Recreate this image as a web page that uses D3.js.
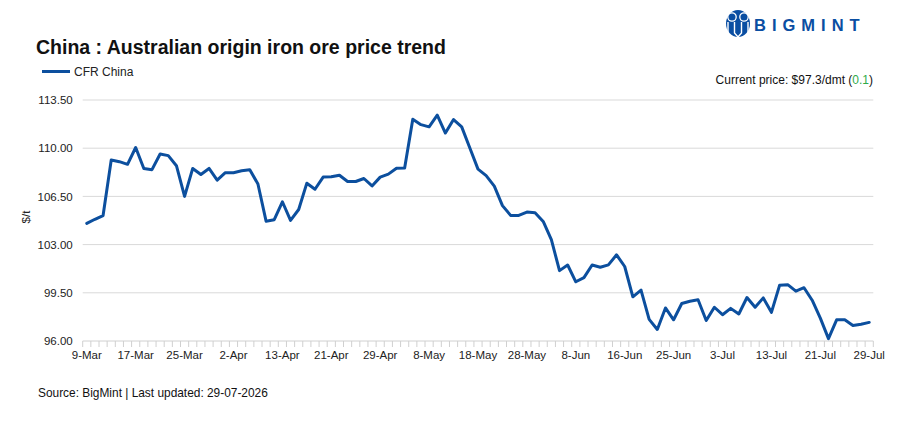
<!DOCTYPE html>
<html>
<head>
<meta charset="utf-8">
<script src="https://cdn.jsdelivr.net/npm/d3@7"></script>
<style>
  html, body { margin: 0; padding: 0; background: #fff; }
  svg { display: block; font-family: "Liberation Sans", Arial, sans-serif; }
</style>
</head>
<body>
<svg id="chart" width="907" height="429"></svg>
<script>
// ---- Data ----
const dates = [
  "9-Mar","10-Mar","11-Mar","12-Mar","13-Mar","16-Mar","17-Mar","18-Mar","19-Mar","20-Mar",
  "23-Mar","24-Mar","25-Mar","26-Mar","27-Mar","30-Mar","31-Mar","1-Apr","2-Apr","6-Apr",
  "7-Apr","8-Apr","9-Apr","10-Apr","13-Apr","14-Apr","15-Apr","16-Apr","17-Apr","20-Apr",
  "21-Apr","22-Apr","23-Apr","24-Apr","27-Apr","28-Apr","29-Apr","30-Apr","4-May","5-May",
  "6-May","7-May","8-May","11-May","12-May","13-May","14-May","15-May","18-May","19-May",
  "20-May","21-May","22-May","27-May","28-May","29-May","2-Jun","3-Jun","4-Jun","5-Jun",
  "8-Jun","9-Jun","10-Jun","11-Jun","12-Jun","15-Jun","16-Jun","17-Jun","18-Jun","22-Jun",
  "23-Jun","24-Jun","25-Jun","26-Jun","29-Jun","30-Jun","1-Jul","2-Jul","3-Jul","6-Jul",
  "7-Jul","8-Jul","9-Jul","10-Jul","13-Jul","14-Jul","15-Jul","16-Jul","17-Jul","20-Jul",
  "21-Jul","22-Jul","23-Jul","24-Jul","27-Jul","28-Jul","29-Jul"
];
const cfrChina = [
  104.54,104.84,105.11,109.14,109.02,108.83,110.05,108.53,108.44,109.58,
  109.46,108.73,106.50,108.53,108.09,108.53,107.68,108.22,108.22,108.36,
  108.44,107.40,104.70,104.81,106.11,104.76,105.55,107.46,107.02,107.90,
  107.92,108.04,107.58,107.58,107.80,107.26,107.90,108.12,108.55,108.56,
  112.10,111.71,111.55,112.40,111.10,112.08,111.55,110.02,108.48,108.01,
  107.25,105.83,105.12,105.12,105.36,105.31,104.68,103.36,101.11,101.52,
  100.30,100.60,101.52,101.36,101.53,102.26,101.41,99.21,99.70,97.57,
  96.84,98.40,97.54,98.72,98.89,98.99,97.49,98.45,97.91,98.37,
  97.96,99.16,98.45,99.13,98.08,100.04,100.09,99.62,99.87,98.96,
  97.66,96.17,97.54,97.54,97.13,97.22,97.35
];
const xTickLabels = ["9-Mar","17-Mar","25-Mar","2-Apr","13-Apr","21-Apr","29-Apr","8-May",
  "18-May","28-May","8-Jun","16-Jun","25-Jun","3-Jul","13-Jul","21-Jul","29-Jul"];
const yTicks = [96, 99.5, 103, 106.5, 110, 113.5];
const seriesName = "CFR China";
const currentPrice = "97.3";
const priceChange = "0.1";

// ---- Layout ----
const svg = d3.select("#chart");
const plot = { left: 82.7, right: 873.3, top: 100, bottom: 341 };
const blue = "#0c4f9e";
const textColor = "#222";

const x = d3.scaleBand().domain(dates).range([plot.left, plot.right]).padding(0);
const y = d3.scaleLinear().domain([96, 113.5]).range([plot.bottom, plot.top]);
const cx = d => x(d) + x.bandwidth() / 2;

// Gridlines
svg.append("g").selectAll("line").data(yTicks.filter(t => t !== 96)).join("line")
  .attr("x1", plot.left).attr("x2", plot.right)
  .attr("y1", d => y(d)).attr("y2", d => y(d))
  .attr("stroke", "#d9d9d9").attr("stroke-width", 1);

// Y axis labels
const yAxis = d3.axisLeft(y).tickValues(yTicks).tickFormat(d3.format(".2f")).tickSize(0).tickPadding(10);
const gy = svg.append("g").attr("transform", `translate(${plot.left},0)`).call(yAxis);
gy.select(".domain").remove();
gy.selectAll("text").attr("font-size", 11.5).attr("fill", textColor)
  .attr("font-family", "Liberation Sans, Arial, sans-serif");

// X axis: boundary ticks
const boundaries = dates.map(d => x(d)).concat([plot.right]);
svg.append("line").attr("x1", plot.left).attr("x2", plot.right)
  .attr("y1", plot.bottom).attr("y2", plot.bottom)
  .attr("stroke", "#d0d0d0").attr("stroke-width", 1);
svg.append("g").selectAll("line").data(boundaries).join("line")
  .attr("x1", d => d).attr("x2", d => d)
  .attr("y1", plot.bottom).attr("y2", plot.bottom + 6)
  .attr("stroke", "#d0d0d0").attr("stroke-width", 1);

const xAxis = d3.axisBottom(x).tickValues(xTickLabels).tickSize(0).tickPadding(10);
const gx = svg.append("g").attr("transform", `translate(0,${plot.bottom})`).call(xAxis);
gx.select(".domain").remove();
gx.selectAll("text").attr("font-size", 11.5).attr("fill", textColor)
  .attr("font-family", "Liberation Sans, Arial, sans-serif");

// Y title
svg.append("text").attr("transform", `translate(30,217) rotate(-90)`)
  .attr("text-anchor", "middle").attr("font-size", 11.5).attr("fill", textColor).text("$/t");

// Line
const line = d3.line().x((d, i) => cx(dates[i])).y(d => y(d));
svg.append("path").datum(cfrChina).attr("d", line)
  .attr("fill", "none").attr("stroke", blue).attr("stroke-width", 3)
  .attr("stroke-linejoin", "round").attr("stroke-linecap", "round");

// Title
svg.append("text").attr("x", 36).attr("y", 54)
  .attr("font-size", 19.5).attr("font-weight", "bold").attr("fill", "#111")
  .text("China : Australian origin iron ore price trend");

// Legend
svg.append("line").attr("x1", 42).attr("x2", 70).attr("y1", 71.5).attr("y2", 71.5)
  .attr("stroke", blue).attr("stroke-width", 3);
svg.append("text").attr("x", 74).attr("y", 75.5).attr("font-size", 12).attr("fill", textColor)
  .text(seriesName);

// Current price
const cp = svg.append("text").attr("x", 873).attr("y", 84).attr("text-anchor", "end")
  .attr("font-size", 12).attr("fill", "#111");
cp.append("tspan").text(`Current price: $${currentPrice}/dmt (`);
cp.append("tspan").attr("fill", "#2eaa4a").text(priceChange);
cp.append("tspan").text(")");

// Source
svg.append("text").attr("x", 38).attr("y", 397).attr("font-size", 11.9).attr("fill", "#111")
  .text("Source: BigMint | Last updated: 29-07-2026");

// Logo
const logo = svg.append("g");
logo.append("ellipse").attr("cx", 738).attr("cy", 23.5).attr("rx", 12).attr("ry", 13.5).attr("fill", "#0a4ea2");
logo.append("circle").attr("cx", 732).attr("cy", 17).attr("r", 4.2).attr("fill", "none").attr("stroke", "#fff").attr("stroke-width", 1.3);
logo.append("circle").attr("cx", 744).attr("cy", 17).attr("r", 4.2).attr("fill", "none").attr("stroke", "#fff").attr("stroke-width", 1.3);
logo.append("path").attr("d", "M728,22 L728,37 M734.5,22 L734.5,33 L738,37 L741.5,33 L741.5,22 M748,22 L748,37")
  .attr("fill", "none").attr("stroke", "#fff").attr("stroke-width", 1.4);
logo.append("text").attr("x", 754).attr("y", 30.9).attr("font-size", 16.5).attr("font-weight", "bold")
  .attr("fill", "#0a4ea2").attr("letter-spacing", 6).text("BIGMINT");
</script>
</body>
</html>
